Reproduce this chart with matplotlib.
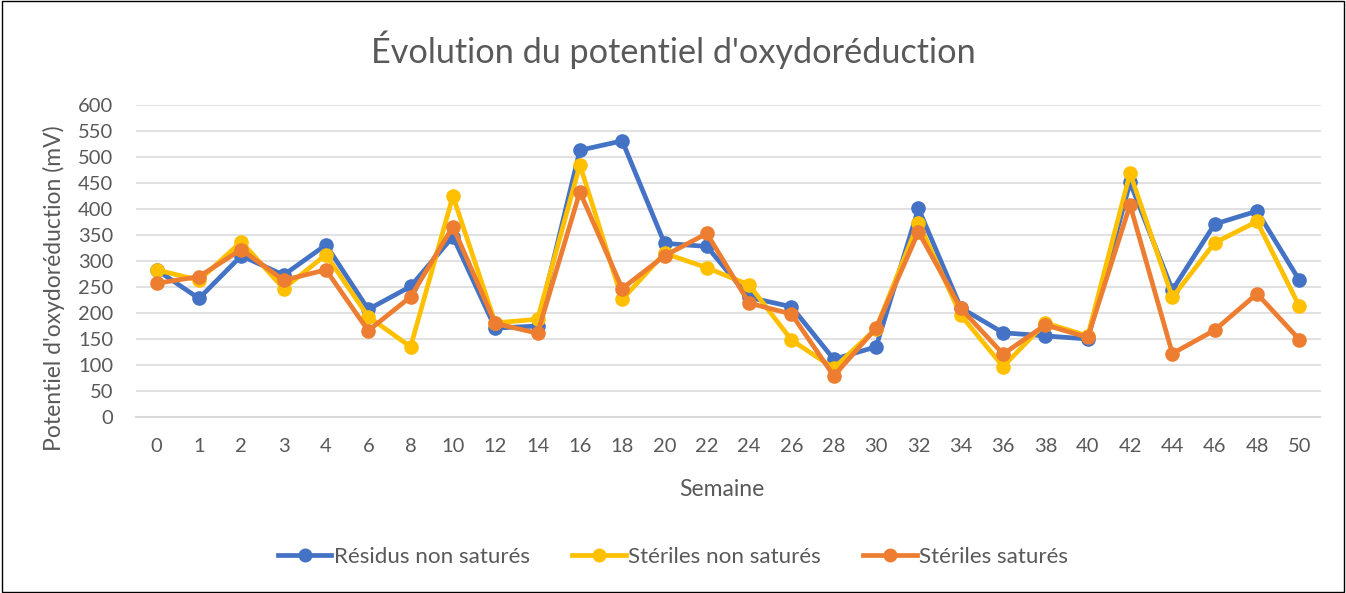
import matplotlib
matplotlib.use("Agg")
import matplotlib.pyplot as plt
from matplotlib.patches import Rectangle

weeks = ["0", "1", "2", "3", "4", "6", "8", "10", "12", "14", "16", "18", "20", "22",
         "24", "26", "28", "30", "32", "34", "36", "38", "40", "42", "44", "46", "48", "50"]

residus_non_satures = [283, 228, 310, 273, 331, 207, 251, 347, 171, 175, 513, 531, 334, 328,
                       230, 212, 111, 135, 401, 210, 162, 156, 150, 451, 244, 371, 396, 263]
steriles_non_satures = [283, 263, 337, 247, 312, 193, 135, 425, 181, 188, 485, 226, 315, 287,
                        254, 148, 94, 170, 374, 196, 97, 181, 156, 469, 230, 335, 376, 213]
steriles_satures = [257, 270, 322, 263, 283, 166, 231, 366, 180, 161, 433, 247, 310, 353,
                    219, 198, 79, 171, 356, 209, 121, 177, 153, 408, 122, 167, 237, 149]

series_names = ["Résidus non saturés", "Stériles non saturés", "Stériles saturés"]
colors = ["#4472C4", "#FFC000", "#ED7D31"]

plt.rcParams['font.family'] = ['Lato', 'DejaVu Sans']
text_color = "#595959"

W, H = 1346, 593
fig = plt.figure(figsize=(W / 100, H / 100), dpi=100)
left, right, top, bottom = 135.5, 1320.5, 105, 417
ax = fig.add_axes([left / W, 1 - bottom / H, (right - left) / W, (bottom - top) / H])

x = list(range(len(weeks)))
for vals, name, c in zip([residus_non_satures, steriles_non_satures, steriles_satures],
                         series_names, colors):
    ax.plot(x, vals, color=c, lw=3.4, marker="o", markersize=9.5, label=name,
            solid_joinstyle="round")

ax.set_xlim(-0.5, len(weeks) - 0.5)
ax.set_ylim(0, 600)
ax.set_yticks(range(0, 601, 50))
ax.set_xticks(x)
ax.set_xticklabels(weeks)
ax.grid(axis="y", color="#D9D9D9", lw=1.1)
ax.set_axisbelow(True)
for s in ["top", "right", "left"]:
    ax.spines[s].set_visible(False)
ax.spines["bottom"].set_color("#D9D9D9")
ax.spines["bottom"].set_linewidth(1.5)
ax.tick_params(axis="both", length=0, labelsize=14.5, labelcolor=text_color)
ax.tick_params(axis="x", pad=15)
ax.tick_params(axis="y", pad=16)

ax.set_xlabel("Semaine", fontsize=16.5, color=text_color, va="center")
ax.xaxis.set_label_coords((722 - left) / (right - left), (bottom - 489) / (bottom - top))
ax.set_ylabel("Potentiel d'oxydoréduction (mV)", fontsize=16.5, color=text_color, va="center")
ax.yaxis.set_label_coords((54 - left) / (right - left), (bottom - 288) / (bottom - top))

fig.text(0.5, 1 - 50 / H, "Évolution du potentiel d'oxydoréduction", ha="center", va="center",
         fontsize=24.7, color=text_color)

leg = fig.legend(loc="center", bbox_to_anchor=(0.5, 1 - 557 / H), ncol=3, frameon=False,
                 fontsize=16.1, handlelength=2.4, handletextpad=0.1, columnspacing=1.9,
                 markerscale=0.95)
for t in leg.get_texts():
    t.set_color(text_color)

fig.patches.append(Rectangle((0.0015, 0.002), 0.997, 0.996, transform=fig.transFigure,
                             fill=False, edgecolor="#000000", lw=1.0))

fig.savefig("out.png", dpi=100)
